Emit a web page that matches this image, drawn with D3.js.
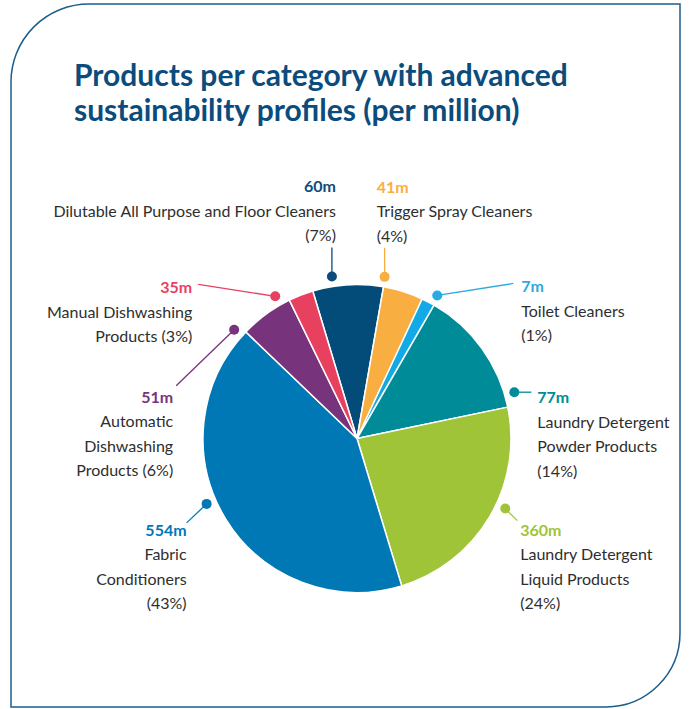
<!DOCTYPE html>
<html lang="en">
<head>
<meta charset="UTF-8">
<script src="https://d3js.org/d3.v7.min.js"></script>
<style>
body { margin: 0; background: #fff; }
.title { font-family: Lato, sans-serif; font-weight: bold; fill: #0b4c7c; font-size: 30px; }
.lbl { font-family: Lato, sans-serif; font-size: 16px; fill: #2e2e2e; }
.val { font-weight: bold; }
</style>
</head>
<body>
<div id="chart"></div>
<script>
// data
const values = [60, 41, 7, 77, 360, 554, 51, 35];
const percents = [7, 4, 1, 14, 24, 43, 6, 3];
// share of the circle each slice takes in the picture
const sliceShare = [7.4, 4.2, 1.4, 13.4, 23.6, 41.9, 5.6, 2.6];
const categoryLines = [
  ["Dilutable All Purpose and Floor Cleaners"],
  ["Trigger Spray Cleaners"],
  ["Toilet Cleaners"],
  ["Laundry Detergent", "Powder Products"],
  ["Laundry Detergent", "Liquid Products"],
  ["Fabric", "Conditioners"],
  ["Automatic", "Dishwashing", "Products"],
  ["Manual Dishwashing", "Products"]
];
const pctInline = [false, false, false, false, false, false, true, true];
const colors = ["#034b78", "#f9ae42", "#12aae6", "#008b99", "#a0c437", "#0078b6", "#77347c", "#e8405f"];
const valColors = ["#0b4c7c", "#f9ae42", "#29abe2", "#008b99", "#a0c437", "#0078b6", "#77347c", "#e8405f"];

// label layout: angle of the dot (deg), leader end offset from dot, text offset from leader end
const labelLayout = [
  { ang: -8.8,   lead: [0, -29],   text: [4, -55],  anchor: "end" },
  { ang: 9.7,    lead: [0, -29],   text: [-8, -55], anchor: "start" },
  { ang: 29.3,   lead: [76, -12],  text: [8, 9],    anchor: "start" },
  { ang: 73.6,   lead: [17, 0],    text: [6, 11],   anchor: "start" },
  { ang: 115.3,  lead: [12, 12],   text: [3, 15],   anchor: "start" },
  { ang: -113.5, lead: [-20, 19],  text: [0, 13],   anchor: "end" },
  { ang: -48.5,  lead: [-58, 56],  text: [-3, 17],  anchor: "end" },
  { ang: -29.9,  lead: [-77, -12], text: [-6, 9],   anchor: "end" }
];

const width = 690, height = 709;
const centre = { x: 357, y: 438.5 };
const radius = 154;
const dotRadius = 164;
const lineH = 24.5;

const svg = d3.select("#chart").append("svg")
  .attr("width", width)
  .attr("height", height);

// card outline, rounded top-left and bottom-right
svg.append("path")
  .attr("d", "M11,82 A78,78 0 0 1 89,4 L680,4 L680,633 A74,74 0 0 1 606,707 L11,707 Z")
  .attr("fill", "#fff")
  .attr("stroke", "#1c5d8a")
  .attr("stroke-width", 1.5);

svg.append("text").attr("class", "title").attr("x", 74).attr("y", 86)
  .text("Products per category with advanced");
svg.append("text").attr("class", "title").attr("x", 74).attr("y", 121)
  .text("sustainability profiles (per million)");

const startA = -16.7 * Math.PI / 180;
const pie = d3.pie().sort(null).value(d => d).startAngle(startA).endAngle(startA + 2 * Math.PI);
const arc = d3.arc().innerRadius(0).outerRadius(radius);

const g = svg.append("g").attr("transform", `translate(${centre.x},${centre.y})`);

g.selectAll("path.slice")
  .data(pie(sliceShare))
  .enter().append("path")
  .attr("class", "slice")
  .attr("d", arc)
  .attr("fill", (d, i) => colors[i])
  .attr("stroke", "#fff")
  .attr("stroke-width", 1.5)
  .attr("stroke-linejoin", "round");

// labels
labelLayout.forEach((L, i) => {
  const p = d3.pointRadial(L.ang * Math.PI / 180, dotRadius);
  const end = [p[0] + L.lead[0], p[1] + L.lead[1]];
  g.append("line")
    .attr("x1", p[0]).attr("y1", p[1])
    .attr("x2", end[0]).attr("y2", end[1])
    .attr("stroke", valColors[i]).attr("stroke-width", 1.3);
  g.append("circle")
    .attr("cx", p[0]).attr("cy", p[1]).attr("r", 5)
    .attr("fill", valColors[i]);

  const lines = categoryLines[i].slice();
  if (pctInline[i]) lines[lines.length - 1] += " (" + percents[i] + "%)";
  else lines.push("(" + percents[i] + "%)");

  const t = g.append("text")
    .attr("class", "lbl")
    .attr("text-anchor", L.anchor)
    .attr("x", end[0] + L.text[0])
    .attr("y", end[1] + L.text[1]);
  t.append("tspan").attr("class", "val")
    .attr("x", end[0] + L.text[0])
    .style("fill", valColors[i])
    .text(values[i] + "m");
  lines.forEach(s => {
    t.append("tspan").attr("x", end[0] + L.text[0]).attr("dy", lineH).text(s);
  });
});
</script>
</body>
</html>
